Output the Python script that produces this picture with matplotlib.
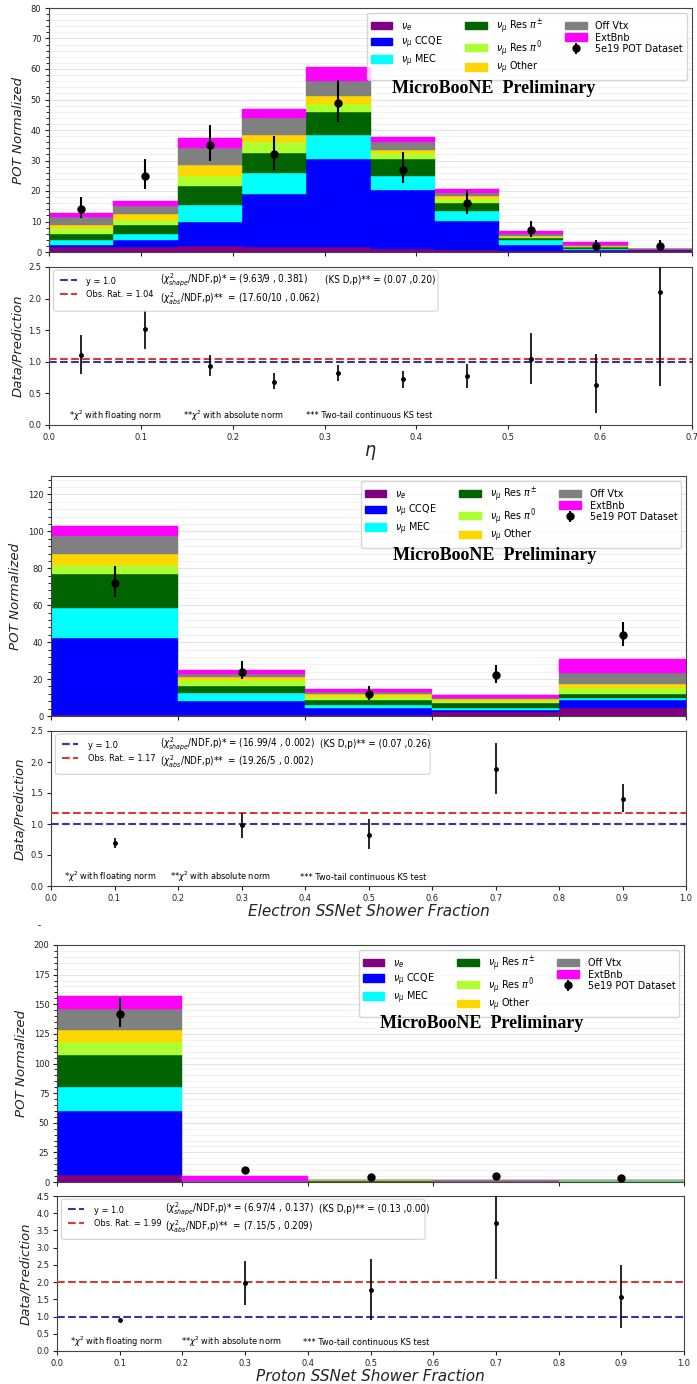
import numpy as np
import matplotlib
matplotlib.use("Agg")
import matplotlib.pyplot as plt
from matplotlib import font_manager
from matplotlib.patches import Patch, FancyBboxPatch
from matplotlib.lines import Line2D
from matplotlib.ticker import MultipleLocator, AutoMinorLocator

# the reference text looks horizontally squeezed -> use a condensed sans when there is one.
# sizes below are "DejaVu Sans equivalent" and get divided by the width factor of the font.
fonts = font_manager.fontManager.ttflist
names = {f.name for f in fonts}
if any(f.name == "DejaVu Sans" and f.stretch == "condensed" for f in fonts):
    sans, stretch, wfac = "DejaVu Sans", "condensed", 0.9
elif "Roboto Condensed" in names:
    sans, stretch, wfac = "Roboto Condensed", "normal", 0.8
elif "Liberation Sans Narrow" in names:
    sans, stretch, wfac = "Liberation Sans Narrow", "normal", 0.75
else:
    sans, stretch, wfac = "DejaVu Sans", "normal", 1.0
plt.rcParams["font.family"] = [sans, "DejaVu Sans"]
plt.rcParams["font.stretch"] = stretch
plt.rcParams["mathtext.fontset"] = "dejavusans"


def fs(size):
    return size / wfac


components = [r"$\nu_e$", r"$\nu_\mu$ CCQE", r"$\nu_\mu$ MEC", r"$\nu_\mu$ Res $\pi^{\pm}$",
              r"$\nu_\mu$ Res $\pi^0$", r"$\nu_\mu$ Other", "Off Vtx", "ExtBnb"]
colors = ["purple", "blue", "cyan", "darkgreen", "greenyellow", "gold", "gray", "magenta"]

# ---- eta ----
eta_edges = [0.0, 0.07, 0.14, 0.21, 0.28, 0.35, 0.42, 0.49, 0.56, 0.63, 0.70]
# rows follow the order of components
eta_mc = [
    [1.5, 1.5, 2.0, 1.8, 1.5, 1.0, 0.8, 0.3, 0.3, 0.80],
    [0.8, 2.5, 7.8, 17.2, 29.0, 19.2, 9.5, 2.1, 0.2, 0.05],
    [1.7, 2.0, 5.7, 7.0, 8.0, 4.8, 3.0, 1.6, 0.5, 0.03],
    [2.0, 3.0, 6.3, 6.5, 7.5, 5.6, 2.7, 0.7, 0.5, 0.03],
    [2.0, 1.5, 3.0, 3.5, 2.5, 1.9, 1.5, 0.3, 0.3, 0.03],
    [1.0, 2.0, 3.7, 2.5, 2.5, 1.0, 0.8, 0.4, 0.2, 0.02],
    [2.5, 2.5, 5.5, 5.3, 5.0, 2.6, 1.0, 0.5, 0.4, 0.02],
    [1.3, 1.7, 3.5, 3.0, 4.5, 1.5, 1.5, 1.1, 0.9, 0.02],
]
eta_data = [14, 25, 35, 32, 49, 27, 16, 7.1, 2.1, 2.1]
eta_data_lo = [3.0, 4.5, 5.2, 5.0, 6.5, 4.3, 3.4, 2.2, 1.3, 1.3]
eta_data_hi = [4.0, 5.5, 6.5, 6.0, 7.5, 5.9, 4.4, 3.2, 1.9, 1.9]
eta_ratio = [1.10, 1.52, 0.94, 0.68, 0.82, 0.72, 0.78, 1.05, 0.64, 2.10]
eta_ratio_lo = [0.30, 0.32, 0.16, 0.11, 0.12, 0.14, 0.20, 0.40, 0.45, 1.48]
eta_ratio_hi = [0.32, 0.30, 0.16, 0.14, 0.13, 0.14, 0.19, 0.40, 0.48, 0.90]

# ---- electron ssnet ----
ele_edges = [0.0, 0.2, 0.4, 0.6, 0.8, 1.0]
ele_mc = [
    [0.5, 0.3, 0.8, 2.0, 4.5],
    [41.7, 7.8, 3.7, 1.5, 4.0],
    [16.3, 4.4, 1.3, 0.9, 1.5],
    [18.5, 4.0, 2.7, 2.4, 2.0],
    [5.0, 3.0, 2.0, 1.4, 3.0],
    [6.0, 1.5, 1.5, 0.8, 2.5],
    [9.5, 1.5, 1.0, 0.5, 6.0],
    [5.5, 2.5, 1.5, 2.0, 7.5],
]
ele_data = [72, 24, 12, 22, 44]
ele_data_lo = [7.5, 4.0, 3.5, 4.0, 6.0]
ele_data_hi = [9.0, 6.0, 4.0, 5.5, 7.0]
ele_ratio = [0.70, 0.98, 0.83, 1.89, 1.41]
ele_ratio_lo = [0.08, 0.20, 0.23, 0.41, 0.21]
ele_ratio_hi = [0.08, 0.20, 0.25, 0.42, 0.23]

# ---- proton ssnet ----
pro_edges = [0.0, 0.2, 0.4, 0.6, 0.8, 1.0]
pro_mc = [
    [5.5, 0.1, 0.1, 0.9, 0.2],
    [54.5, 0.5, 0.1, 0.1, 0.2],
    [20.0, 0.1, 0.05, 0.05, 0.1],
    [27.0, 0.1, 0.3, 0.1, 0.4],
    [11.0, 0.1, 0.9, 0.05, 0.6],
    [10.0, 0.05, 0.1, 0.05, 0.1],
    [18.0, 0.15, 0.35, 0.05, 0.2],
    [11.0, 4.0, 0.2, 0.05, 0.1],
]
pro_data = [142, 10, 3.8, 5.0, 3.0]
pro_data_lo = [11, 2.5, 1.8, 2.0, 1.5]
pro_data_hi = [13, 3.0, 2.2, 2.5, 1.5]
pro_ratio = [0.91, 1.96, 1.78, 3.72, 1.57]
pro_ratio_lo = [0.05, 0.63, 0.88, 1.64, 0.89]
pro_ratio_hi = [0.06, 0.64, 0.89, 0.90, 0.93]

W, H = 697, 1384
fig = plt.figure(figsize=(W / 100, H / 100), dpi=100)


def axes_px(l, r, t, b):
    return fig.add_axes([l / W, 1 - b / H, (r - l) / W, (b - t) / H])


def style_axes(ax):
    for s in ax.spines.values():
        s.set_color("#444444")
    ax.tick_params(labelsize=fs(6), colors="#222222", length=3, pad=2.5)


def draw_stack(ax, edges, mc, data, lo, hi, ymax, ystep, text_x):
    edges = np.array(edges)
    widths = np.diff(edges)
    centers = edges[:-1] + widths / 2
    bottom = np.zeros(len(widths))
    for vals, lab, col in zip(mc, components, colors):
        ax.bar(edges[:-1], vals, width=widths, bottom=bottom, align="edge",
               color=col, edgecolor=col, linewidth=0.3, label=lab, zorder=2)
        bottom += np.array(vals)
    eb = ax.errorbar(centers, data, yerr=[lo, hi], fmt="o", color="black",
                     markersize=5, elinewidth=1.5, capsize=0, zorder=5)
    ax.set_xlim(edges[0], edges[-1])
    ax.set_ylim(0, ymax)
    ax.yaxis.set_major_locator(MultipleLocator(ystep))
    ax.yaxis.set_minor_locator(AutoMinorLocator(5))
    ax.grid(axis="y", which="major", color="#e4e4e4", linewidth=0.8, zorder=0)
    ax.grid(axis="y", which="minor", color="#f0f0f0", linewidth=0.6, zorder=0)
    ax.set_axisbelow(True)
    ax.set_xticklabels([])
    ax.tick_params(axis="x", length=0)
    ax.set_ylabel("POT Normalized", fontsize=9.6, fontstyle="italic",
                  family="DejaVu Sans", fontstretch="normal", color="#222222", labelpad=4)
    style_axes(ax)
    handles = [Patch(color=c) for c in colors] + [eb]
    labels = components + ["5e19 POT Dataset"]
    ax.legend(handles, labels, ncol=3, loc="upper right", bbox_to_anchor=(0.992, 0.98),
              borderaxespad=0, fontsize=fs(7.0), columnspacing=2.1, handletextpad=0.8,
              labelspacing=0.12, borderpad=0.35, framealpha=0.8, edgecolor="#cccccc")
    ax.text(text_x, 0.67, "MicroBooNE  Preliminary", transform=ax.transAxes,
            ha="center", va="center", fontsize=13, fontweight="bold",
            family="Liberation Serif", fontstretch="normal", zorder=6)


def draw_ratio(ax, edges, ratio, lo, hi, obs, ymax, xlabel, xlsize,
               shape_txt, abs_txt, ks_txt, box_w, ks_x, foot_x):
    edges = np.array(edges)
    centers = edges[:-1] + np.diff(edges) / 2
    ax.errorbar(centers, ratio, yerr=[lo, hi], fmt="o", color="black",
                markersize=2.5, elinewidth=1.2, capsize=0, zorder=5)
    ax.axhline(1.0, color="#3535a5", linestyle="--", linewidth=1.5, zorder=3)
    ax.axhline(obs, color="#d83a3a", linestyle="--", linewidth=1.5, zorder=3)
    ax.set_xlim(edges[0], edges[-1])
    ax.set_ylim(0, ymax)
    ax.yaxis.set_major_locator(MultipleLocator(0.5))
    ax.xaxis.set_major_locator(MultipleLocator(0.1))
    ax.set_ylabel("Data/Prediction", fontsize=9.5, fontstyle="italic",
                  family="DejaVu Sans", fontstretch="normal", color="#222222", labelpad=3)
    ax.set_xlabel(xlabel, fontsize=xlsize, fontstyle="italic",
                  family="DejaVu Sans", fontstretch="normal", color="#222222", labelpad=1)
    style_axes(ax)
    box = FancyBboxPatch((0.007, 0.72), box_w, 0.26, transform=ax.transAxes,
                         boxstyle="round,pad=0.0,rounding_size=0.01",
                         facecolor="white", edgecolor="#cccccc", alpha=0.85,
                         linewidth=0.8, zorder=6)
    ax.add_patch(box)
    handles = [Line2D([], [], color="#3535a5", linestyle="--", linewidth=1.5),
               Line2D([], [], color="#d83a3a", linestyle="--", linewidth=1.5)]
    leg = ax.legend(handles, ["y = 1.0", "Obs. Rat. = %.2f" % obs], loc="upper left",
                    bbox_to_anchor=(0.006, 0.985), frameon=False, fontsize=fs(5.9),
                    handlelength=1.8, handletextpad=1.0, labelspacing=0.45, borderpad=0.3)
    leg.set_zorder(7)
    ax.text(0.172, 0.915, shape_txt, transform=ax.transAxes, fontsize=fs(6.4),
            va="center", zorder=7)
    ax.text(0.172, 0.80, abs_txt, transform=ax.transAxes, fontsize=fs(6.4),
            va="center", zorder=7)
    ax.text(ks_x, 0.915, ks_txt, transform=ax.transAxes, fontsize=fs(6.4),
            va="center", zorder=7)
    foot = [r"*$\chi^2$ with floating norm", r"**$\chi^2$ with absolute norm",
            "*** Two-tail continuous KS test"]
    for fx, ft in zip(foot_x, foot):
        ax.text(fx, 0.057, ft, transform=ax.transAxes, fontsize=fs(5.9), va="center")


# panel 1
ax1 = axes_px(49, 692, 8, 252)
draw_stack(ax1, eta_edges, eta_mc, eta_data, eta_data_lo, eta_data_hi, 80, 10, 0.692)
ax1r = axes_px(49, 692, 267, 425)
draw_ratio(ax1r, eta_edges, eta_ratio, eta_ratio_lo, eta_ratio_hi, 1.04, 2.5,
           r"$\eta$", 14,
           r"($\chi^2_{shape}$/NDF,p)* = (9.63/9 , 0.381)",
           r"($\chi^2_{abs}$/NDF,p)**  = (17.60/10 , 0.062)",
           "(KS D,p)** = (0.07 ,0.20)", 0.598, 0.43, [0.031, 0.208, 0.40])

# panel 2
ax2 = axes_px(51, 686, 476, 716)
draw_stack(ax2, ele_edges, ele_mc, ele_data, ele_data_lo, ele_data_hi, 130, 20, 0.698)
ax2r = axes_px(51, 686, 731, 886)
draw_ratio(ax2r, ele_edges, ele_ratio, ele_ratio_lo, ele_ratio_hi, 1.17, 2.5,
           "Electron SSNet Shower Fraction", 11,
           r"($\chi^2_{shape}$/NDF,p)* = (16.99/4 , 0.002)",
           r"($\chi^2_{abs}$/NDF,p)**  = (19.26/5 , 0.002)",
           "(KS D,p)** = (0.07 ,0.26)", 0.59, 0.424, [0.021, 0.188, 0.392])
fig.text(38 / W, 1 - 925 / H, "-", fontsize=7, va="center")

# panel 3
ax3 = axes_px(57, 684, 945, 1182)
draw_stack(ax3, pro_edges, pro_mc, pro_data, pro_data_lo, pro_data_hi, 200, 25, 0.678)
ax3r = axes_px(57, 684, 1196, 1351)
draw_ratio(ax3r, pro_edges, pro_ratio, pro_ratio_lo, pro_ratio_hi, 1.99, 4.5,
           "Proton SSNet Shower Fraction", 11,
           r"($\chi^2_{shape}$/NDF,p)* = (6.97/4 , 0.137)",
           r"($\chi^2_{abs}$/NDF,p)**  = (7.15/5 , 0.209)",
           "(KS D,p)** = (0.13 ,0.00)", 0.58, 0.418, [0.021, 0.197, 0.392])

fig.savefig("out.png", dpi=100, facecolor="white")
